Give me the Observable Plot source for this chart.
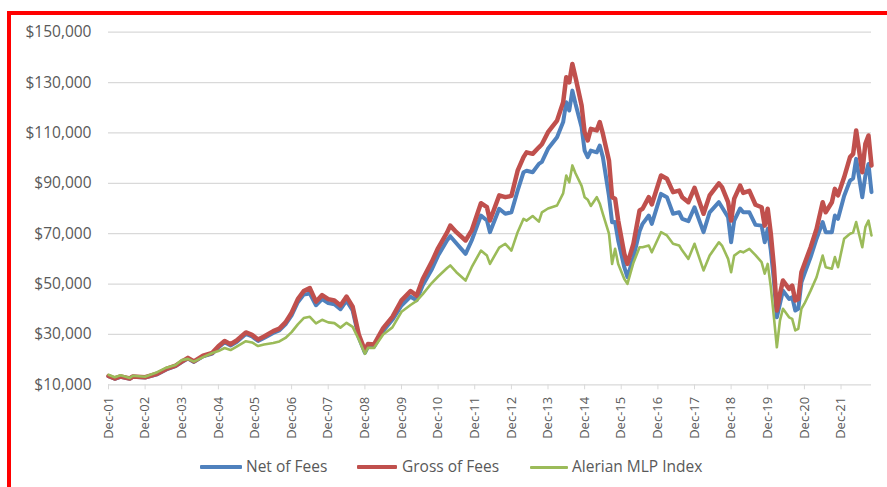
<!DOCTYPE html>
<html>
<head>
<meta charset="utf-8">
<script src="https://cdn.jsdelivr.net/npm/d3@7"></script>
<script src="https://cdn.jsdelivr.net/npm/@observablehq/plot@0.6"></script>
<style>
  html, body { margin: 0; padding: 0; background: #fff; width: 887px; height: 487px; overflow: hidden; }
  #wrap { position: relative; width: 887px; height: 487px; }
  #chart { position: absolute; left: 0; top: 0; }
  #frame { position: absolute; left: 7px; top: 11px; width: 920px; height: 520px; border-left: 4px solid #ff0000; border-top: 4px solid #ff0000; pointer-events: none; }
  #legend { position: absolute; top: 455px; left: 0; width: 887px; height: 22px; font-family: "Open Sans", sans-serif; font-size: 15.5px; color: #595959; }
  .item { position: absolute; top: 0; height: 22px; line-height: 22px; white-space: nowrap; }
  .sw { position: absolute; top: 10px; border-radius: 1px; }
</style>
</head>
<body>
<div id="wrap">
  <div id="chart"></div>
  <div id="legend"></div>
  <div id="frame"></div>
</div>
<script>
// ---- data ----
const months = ["2001-12","2002-02","2002-04","2002-07","2002-08","2002-12","2003-04","2003-07","2003-10","2003-12",
"2004-02","2004-04","2004-07","2004-10","2004-12","2005-02","2005-04","2005-06","2005-09","2005-11",
"2006-01","2006-03","2006-06","2006-08","2006-10","2006-12","2007-02","2007-04","2007-06","2007-08",
"2007-10","2007-12","2008-02","2008-04","2008-06","2008-08","2008-10","2008-12","2009-01","2009-03",
"2009-06","2009-09","2009-12","2010-03","2010-05","2010-07","2010-10","2010-12","2011-03","2011-04",
"2011-06","2011-09","2011-11","2012-02","2012-04","2012-05","2012-08","2012-10","2012-12","2013-02",
"2013-04","2013-05","2013-07","2013-09","2013-10","2013-12","2014-03","2014-05","2014-06","2014-07",
"2014-08","2014-09","2014-11","2014-12","2015-01","2015-02","2015-04","2015-05","2015-06","2015-08",
"2015-09","2015-10","2015-11","2016-01","2016-02","2016-04","2016-06","2016-07","2016-09","2016-10",
"2017-01","2017-03","2017-05","2017-07","2017-08","2017-10","2017-12","2018-03","2018-05","2018-08",
"2018-09","2018-11","2018-12","2019-01","2019-03","2019-04","2019-06","2019-08","2019-10","2019-11",
"2019-12","2020-01","2020-02","2020-03","2020-04","2020-05","2020-07","2020-08","2020-09","2020-10",
"2020-11","2020-12","2021-02","2021-04","2021-06","2021-07","2021-09","2021-10","2021-11","2022-01",
"2022-03","2022-04","2022-05","2022-07","2022-08","2022-09","2022-10"];

const grossOfFees = [13500,12500,13300,12500,13300,13000,14400,16300,17600,19200,
20700,19300,21600,22700,25300,27400,26100,27600,30800,29800,
28000,29200,31300,32300,34800,38600,44000,47200,48400,43000,
45600,44000,43500,41500,45000,41000,30000,23600,26200,26000,
32500,37000,43500,47200,45400,52000,59000,64300,70500,73200,
70600,67300,71300,82100,80500,75200,85200,84500,85000,95000,
100400,102300,101700,104300,105500,110300,114900,122200,132100,130100,
137400,132100,120900,110300,107000,111600,111000,114300,109700,99100,
84500,83900,75200,62000,58000,66000,79200,79900,84500,81600,
93100,91800,86500,87100,84500,82500,88200,77900,85200,90000,
88500,82500,75200,83900,89100,86200,87000,81500,80500,73200,
79900,70000,56700,39500,46100,51400,48100,49400,43500,44100,
54700,58000,64600,71900,82500,78500,82500,87800,85200,92400,
100400,101700,111000,94400,105700,109000,97100];

const netOfFees = [13400,12400,13200,12400,13200,12900,14200,16100,17400,19000,
20400,19100,21300,22400,24800,26900,25600,27000,30200,29200,
27400,28600,30600,31600,34000,37600,42800,45800,46200,41600,
44000,42500,42000,40000,43400,39500,28800,22700,25200,25000,
31400,35800,41500,45000,43600,49500,56000,61300,67400,69000,
66200,62000,67300,77200,75200,70600,79900,77900,78500,87100,
94400,95000,94400,97700,98500,103700,108300,114300,122200,118900,
126800,121600,112300,103000,100400,103000,102300,105000,100400,85000,
74500,74600,67300,56700,52700,60700,71000,73900,77200,73900,
85800,84500,77900,78500,75900,75000,80500,70600,78500,82500,
80500,76500,66600,75200,80000,78500,78500,73500,73200,66600,
71900,63300,51400,36800,42200,47400,44100,44800,39500,40200,
50700,54100,60700,68000,74600,70600,70600,77200,75900,85000,
91100,92000,99700,84500,93100,97700,86500];

const alerianMLP = [14000,13000,13800,12700,13600,13200,15000,16800,17900,19800,
20300,19200,21000,22600,23400,24600,23800,25200,27300,26800,
25400,26000,26600,27200,28600,30900,34000,36500,37000,34400,
35800,34800,34500,32700,34600,33000,28000,22300,24700,24600,
30000,32800,39000,41700,43300,46000,50500,53000,56400,57400,
54700,51400,56700,63300,61300,58000,64500,66000,63300,70600,
75900,75200,77000,74800,78500,80000,81200,86000,93100,90400,
97100,94000,89000,84500,83500,81000,84500,82000,77900,70000,
58000,64000,58000,52000,50100,58500,64600,64600,65300,62600,
70600,69300,66000,65300,63300,60000,66000,55400,61300,66600,
65300,60000,54700,61300,63000,62600,64000,61500,58700,54100,
58000,48800,36800,24900,35500,40200,36800,36200,31600,32200,
40200,42200,47400,52700,61300,56700,56100,60700,56700,68000,
70000,70500,74600,64600,72600,75200,69300];

const seriesNames = ["Net of Fees", "Gross of Fees", "Alerian MLP Index"];
const seriesColors = ["#4F81BD", "#C0504D", "#9BBB59"];
const seriesWidths = [4, 4.5, 2.6];

const yTicks = [10000, 30000, 50000, 70000, 90000, 110000, 130000, 150000];
const xTickLabels = ["Dec-01","Dec-02","Dec-03","Dec-04","Dec-05","Dec-06","Dec-07","Dec-08","Dec-09","Dec-10",
"Dec-11","Dec-12","Dec-13","Dec-14","Dec-15","Dec-16","Dec-17","Dec-18","Dec-19","Dec-20","Dec-21"];

// ---- build ----
const parseMonth = d3.utcParse("%Y-%m");
const parseTick = d3.utcParse("%b-%y");
const dates = months.map(parseMonth);
const seriesValues = [netOfFees, grossOfFees, alerianMLP];
const rows = [];
seriesValues.forEach((vals, s) => {
  vals.forEach((v, i) => rows.push({date: dates[i], value: v, series: seriesNames[s]}));
});
const tickDates = xTickLabels.map(parseTick);
const fmtTick = d3.utcFormat("%b-%y");
const fmtMoney = d => "$" + d3.format(",")(d);

const lineMarks = seriesNames.map((name, s) =>
  Plot.line(rows.filter(r => r.series === name), {
    x: "date", y: "value",
    stroke: seriesColors[s], strokeWidth: seriesWidths[s],
    strokeLinejoin: "round", strokeLinecap: "round"
  })
);

const chart = Plot.plot({
  width: 887,
  height: 450,
  marginLeft: 108,
  marginRight: 16,
  marginTop: 31.7,
  marginBottom: 65.7,
  style: {fontFamily: "'Open Sans', sans-serif", fontSize: "15.5px", color: "#595959", background: "transparent", overflow: "visible"},
  x: {
    type: "utc",
    domain: [dates[0], dates[dates.length - 1]],
    ticks: tickDates,
    tickFormat: fmtTick,
    tickRotate: -90,
    tickSize: 5,
    tickPadding: 7,
    label: null
  },
  y: {
    domain: [10000, 150000],
    ticks: yTicks,
    tickFormat: fmtMoney,
    tickSize: 0,
    tickPadding: 17,
    label: null
  },
  marks: [
    Plot.ruleY(yTicks, {stroke: "#d9d9d9", strokeWidth: 1.3}),
    lineMarks[0],
    lineMarks[1],
    lineMarks[2]
  ]
});
document.getElementById("chart").appendChild(chart);

// axis styling: x labels smaller, tick marks light grey
const svg = d3.select(chart);
svg.selectAll('g[aria-label^="x-axis"] text').attr("font-size", "13px");
svg.selectAll('g[aria-label^="x-axis"] path, g[aria-label^="x-axis"] line').attr("stroke", "#d9d9d9");

// legend
const legendPos = [
  {line: [200, 242], text: 246},
  {line: [357, 397], text: 402},
  {line: [530, 568], text: 572}
];
const legend = d3.select("#legend");
seriesNames.forEach((name, s) => {
  const p = legendPos[s];
  legend.append("div").attr("class", "sw")
    .style("left", p.line[0] + "px")
    .style("width", (p.line[1] - p.line[0]) + "px")
    .style("height", (s === 2 ? 3 : 4) + "px")
    .style("top", (s === 2 ? 10.5 : 10) + "px")
    .style("background", seriesColors[s]);
  legend.append("div").attr("class", "item")
    .style("left", p.text + "px")
    .text(name);
});
</script>
</body>
</html>
